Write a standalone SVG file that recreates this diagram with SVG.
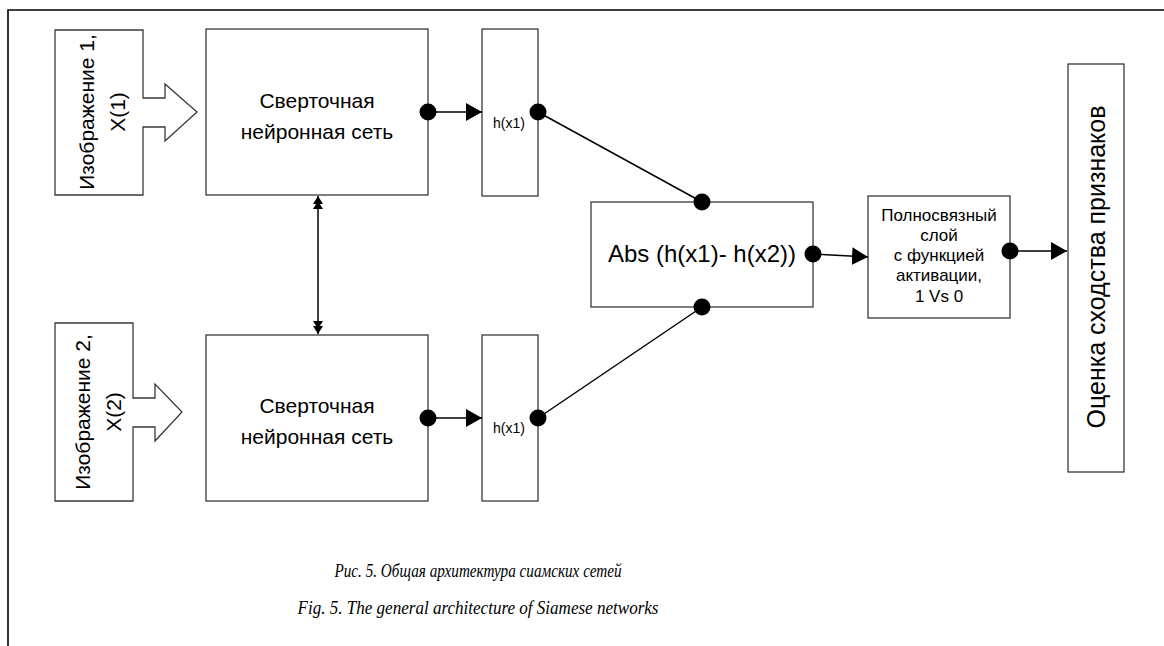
<svg xmlns="http://www.w3.org/2000/svg" width="1164" height="646" viewBox="0 0 1164 646">
<style>
.box{fill:#fff;stroke:#3a3a3a;stroke-width:1.3}
.t{font-family:"Liberation Sans","Noto Sans",Arial,sans-serif;fill:#000}
.con{stroke:#000;stroke-width:1.5;fill:none}
.dot{fill:#000}
.cap{font-family:"Liberation Serif","Times New Roman",serif;font-style:italic;font-size:19px;fill:#000;text-anchor:middle}
</style>
<defs>
<marker id="arr" markerUnits="userSpaceOnUse" markerWidth="18" markerHeight="20" refX="16" refY="9" orient="auto">
<path d="M0,0 L16,9 L0,18 Z" fill="#000"/>
</marker>
<marker id="dbl" markerUnits="userSpaceOnUse" markerWidth="14" markerHeight="12" refX="13" refY="5" orient="auto-start-reverse">
<path d="M0,0 L8,5 L0,10 Z M5,0 L13,5 L5,10 Z" fill="#000"/>
</marker>
</defs>
<rect width="1164" height="646" fill="#fff"/>
<path d="M8,646 L8,10 L1164,10" stroke="#000" stroke-width="1.6" fill="none"/>

<g id="image1">
<path class="box" d="M55,30 L143,30 L143,98 L165,98 L165,84 L197,112 L165,141 L165,127 L143,127 L143,195 L55,195 Z"/>
<text class="t" font-size="21" text-anchor="middle" transform="translate(94,112) rotate(-90)">Изображение 1,</text>
<text class="t" font-size="21" text-anchor="middle" transform="translate(125,112) rotate(-90)">X(1)</text>
</g>
<g id="image2">
<path class="box" d="M55,323 L133,323 L133,398 L155,398 L155,384 L182,412 L155,441 L155,427 L133,427 L133,501 L55,501 Z"/>
<text class="t" font-size="21" text-anchor="middle" transform="translate(90,412) rotate(-90)">Изображение 2,</text>
<text class="t" font-size="21" text-anchor="middle" transform="translate(121,412) rotate(-90)">X(2)</text>
</g>
<g id="cnn1">
<rect class="box" x="206" y="29" width="222" height="166"/>
<text class="t" font-size="21" text-anchor="middle" x="317" y="108">Сверточная</text>
<text class="t" font-size="21" text-anchor="middle" x="317" y="139">нейронная сеть</text>
</g>
<g id="cnn2">
<rect class="box" x="206" y="335" width="222" height="166"/>
<text class="t" font-size="21" text-anchor="middle" x="317" y="413">Сверточная</text>
<text class="t" font-size="21" text-anchor="middle" x="317" y="444">нейронная сеть</text>
</g>
<g id="h1">
<rect class="box" x="482" y="29" width="56" height="167"/>
<text class="t" font-size="14" text-anchor="middle" x="509" y="128">h(x1)</text>
</g>
<g id="h2">
<rect class="box" x="482" y="335" width="56" height="166"/>
<text class="t" font-size="14" text-anchor="middle" x="509" y="433">h(x1)</text>
</g>
<g id="abs">
<rect class="box" x="591" y="202" width="222" height="105"/>
<text class="t" font-size="24" text-anchor="middle" x="702" y="262">Abs (h(x1)- h(x2))</text>
</g>
<g id="fc">
<rect class="box" x="868" y="196" width="142" height="122"/>
<g class="t" font-size="17" text-anchor="middle">
<text x="939" y="221">Полносвязный</text>
<text x="939" y="241">слой</text>
<text x="939" y="261">с функцией</text>
<text x="939" y="281">активации,</text>
<text x="939" y="302">1 Vs 0</text>
</g>
</g>
<g id="output">
<rect class="box" x="1068" y="64" width="56" height="408"/>
<text class="t" font-size="25" text-anchor="middle" transform="translate(1105,267) rotate(-90)">Оценка сходства признаков</text>
</g>

<g id="connectors">
<line class="con" x1="428" y1="112" x2="482" y2="112" marker-end="url(#arr)"/>
<line class="con" x1="428" y1="418" x2="482" y2="418" marker-end="url(#arr)"/>
<line class="con" x1="538" y1="112" x2="702" y2="202"/>
<line class="con" x1="538" y1="418" x2="702" y2="307"/>
<line class="con" x1="813" y1="254" x2="868" y2="257" marker-end="url(#arr)"/>
<line class="con" x1="1010" y1="251" x2="1067" y2="251" marker-end="url(#arr)"/>
<line class="con" x1="318" y1="196" x2="318" y2="334" marker-start="url(#dbl)" marker-end="url(#dbl)"/>
<circle class="dot" cx="428" cy="112" r="8.5"/>
<circle class="dot" cx="538" cy="112" r="8.5"/>
<circle class="dot" cx="428" cy="418" r="8.5"/>
<circle class="dot" cx="538" cy="418" r="8.5"/>
<circle class="dot" cx="702" cy="202" r="8.5"/>
<circle class="dot" cx="702" cy="307" r="8.5"/>
<circle class="dot" cx="813" cy="254" r="8.5"/>
<circle class="dot" cx="1010" cy="251" r="8.5"/>
</g>

<text class="cap" x="478" y="577" textLength="287" lengthAdjust="spacingAndGlyphs">Рис. 5. Общая архитектура сиамских сетей</text>
<text class="cap" x="478" y="614" textLength="361" lengthAdjust="spacingAndGlyphs">Fig. 5. The general architecture of Siamese networks</text>
</svg>
